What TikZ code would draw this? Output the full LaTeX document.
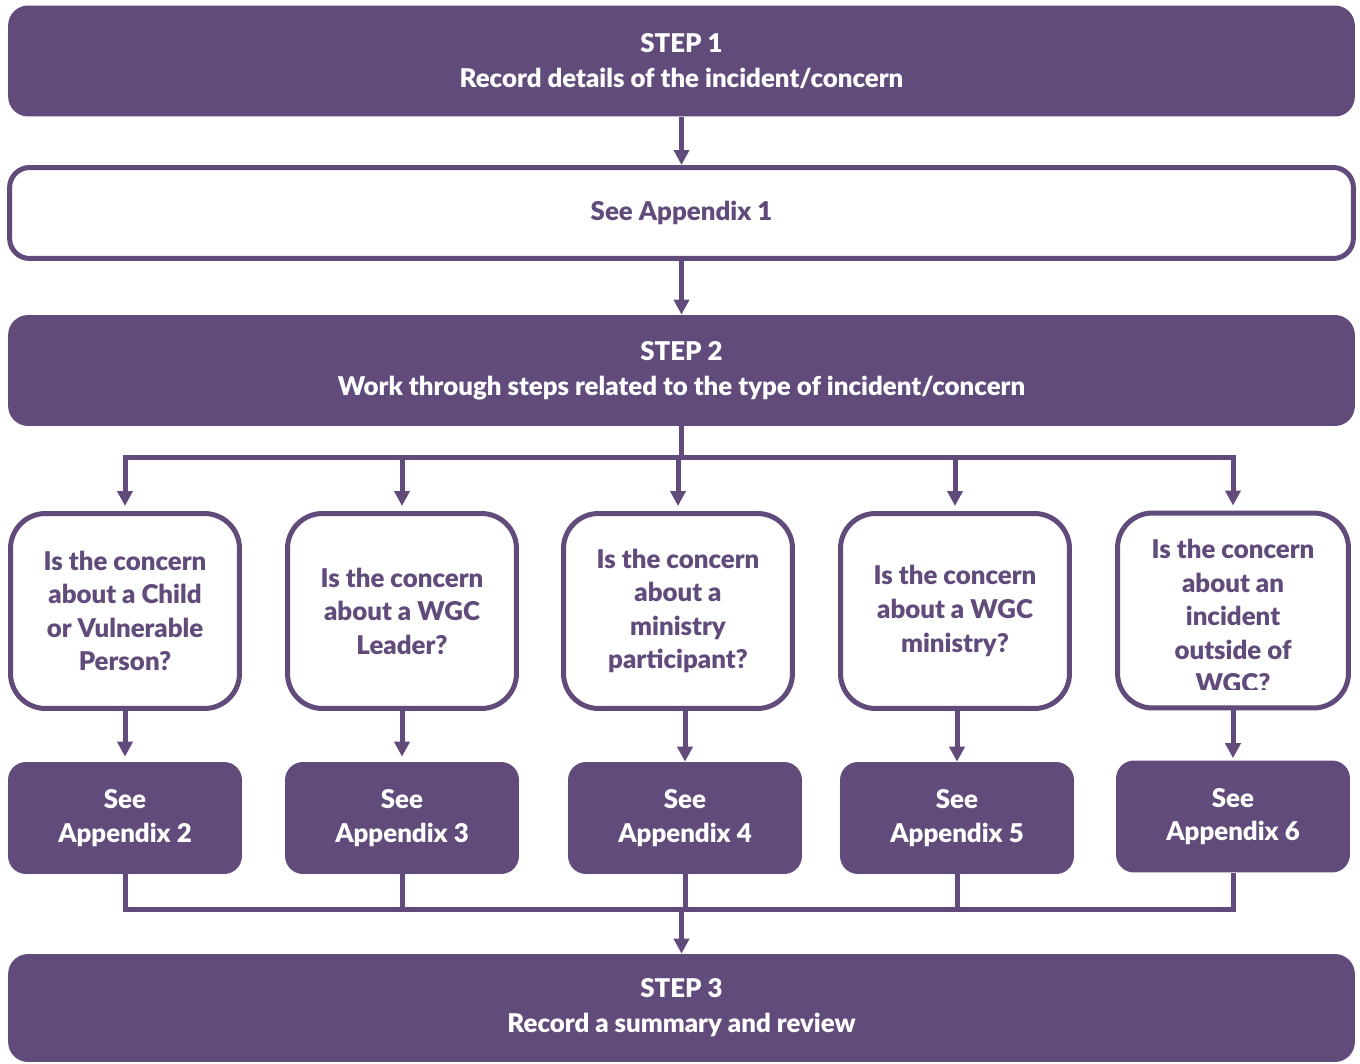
\documentclass[tikz,border=0pt]{standalone}
\usepackage{fontspec}
\setmainfont{Lato}[BoldFont={Lato Black}]
\usetikzlibrary{arrows.meta}
\definecolor{wgc}{HTML}{604B7B}

\begin{document}
\begin{tikzpicture}[x=0.02cm,y=-0.02cm,
    every node/.style={font=\bfseries\fontsize{14.7}{19.1}\selectfont,align=center,inner sep=0pt},
    stepbox/.style={fill=wgc,text=white,rounded corners=0.4cm,minimum width=26.94cm,minimum height=2.22cm,
      font=\bfseries\fontsize{14.7}{19.9}\selectfont},
    seebox/.style={draw=wgc,line width=0.1cm,fill=white,text=wgc,rounded corners=0.4cm},
    askbox/.style={draw=wgc,line width=0.1cm,fill=white,text=wgc,rounded corners=0.7cm,minimum width=4.58cm,minimum height=3.9cm},
    appbox/.style={fill=wgc,text=white,rounded corners=0.36cm,minimum width=4.68cm,minimum height=2.24cm},
    link/.style={draw=wgc,line width=0.1cm},
    arr/.style={link,-{Triangle[width=0.3cm,length=0.3cm]}}]
  \useasboundingbox (0,0) rectangle (1360,1064);

  % the three steps and the first appendix
  \node[stepbox] (step1) at (681.5,61) {STEP 1\\Record details of the incident/concern};
  \node[seebox,minimum width=26.88cm,minimum height=1.82cm] (app1) at (681.5,213) {See Appendix 1};
  \node[stepbox] (step2) at (681.5,370.5) {STEP 2\\Work through steps related to the type of incident/concern};
  \node[stepbox,minimum height=2.16cm] (step3) at (681.5,1008) {STEP 3\\Record a summary and review};

  % questions
  \node[askbox] (q1) at (125,611) {Is the concern\\about a Child\\or Vulnerable\\Person?};
  \node[askbox] (q2) at (402,611) {Is the concern\\about a WGC\\Leader?};
  \node[askbox] (q3) at (678,611) {Is the concern\\about a\\ministry\\participant?};
  \node[askbox] (q4) at (955,611) {Is the concern\\about a WGC\\ministry?};
  \node[askbox,minimum width=4.62cm] (q5) at (1233,610.5) {};
  \begin{scope}
    \clip (1120,515) rectangle (1346,689);
    \node[text=wgc] (q5text) at (1233,616) {Is the concern\\about an\\incident\\outside of\\WGC?};
  \end{scope}

  % appendices
  \node[appbox] (a2) at (125,818) {See\\Appendix 2};
  \node[appbox] (a3) at (402,818) {See\\Appendix 3};
  \node[appbox] (a4) at (685,818) {See\\Appendix 4};
  \node[appbox] (a5) at (957,818) {See\\Appendix 5};
  \node[appbox] (a6) at (1233,816.5) {See\\Appendix 6};

  % top of the chart
  \draw[arr] (step1) -- (app1);
  \draw[arr] (app1) -- (step2);

  % split out to the questions
  \coordinate (fork) at (681.5,457);
  \draw[link] (step2.south) -- (fork);
  \foreach \q in {q1,q2,q3,q4,q5}
    \draw[arr] (fork) -| ([yshift=0.1cm]\q.north);
  \draw[link] (q1.north |- fork) -- (q5.north |- fork);

  \draw[arr] (q1) -- ([yshift=0.1cm]a2.north);
  \draw[arr] (q2) -- ([yshift=0.1cm]a3.north);
  \draw[arr] (q3.south -| a4) -- (a4);
  \draw[arr] (q4.south -| a5) -- (a5);
  \draw[arr] (q5) -- ([yshift=0.04cm]a6.north);

  % join again for step 3
  \coordinate (join) at (681.5,909);
  \foreach \a in {a2,a3,a4,a5,a6}
    \draw[link] (\a) |- (join);
  \draw[arr] (join) -- (step3);
\end{tikzpicture}
\end{document}
